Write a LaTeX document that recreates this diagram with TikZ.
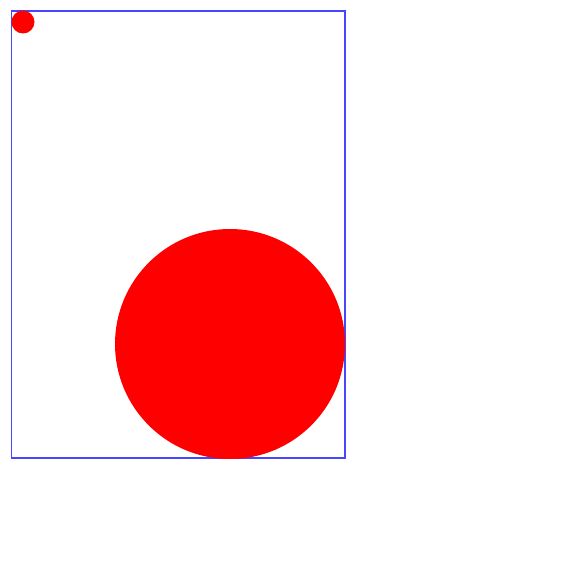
\documentclass[tikz,border=0pt]{standalone}
\usepackage{tikz}
\definecolor{frameblue}{RGB}{70,70,255}
\begin{document}
\begin{tikzpicture}[x=1pt, y=-1pt,
  frame/.style={draw=frameblue, line width=1.4pt},
  dot/.style={fill=red}]
  \useasboundingbox (0,0) rectangle (575,575);
  \draw[frame] (11.5,11) rectangle (345,458);
  \fill[dot] (23,22) circle (11.5);
  \fill[dot] (230,344) circle (115);
\end{tikzpicture}
\end{document}
